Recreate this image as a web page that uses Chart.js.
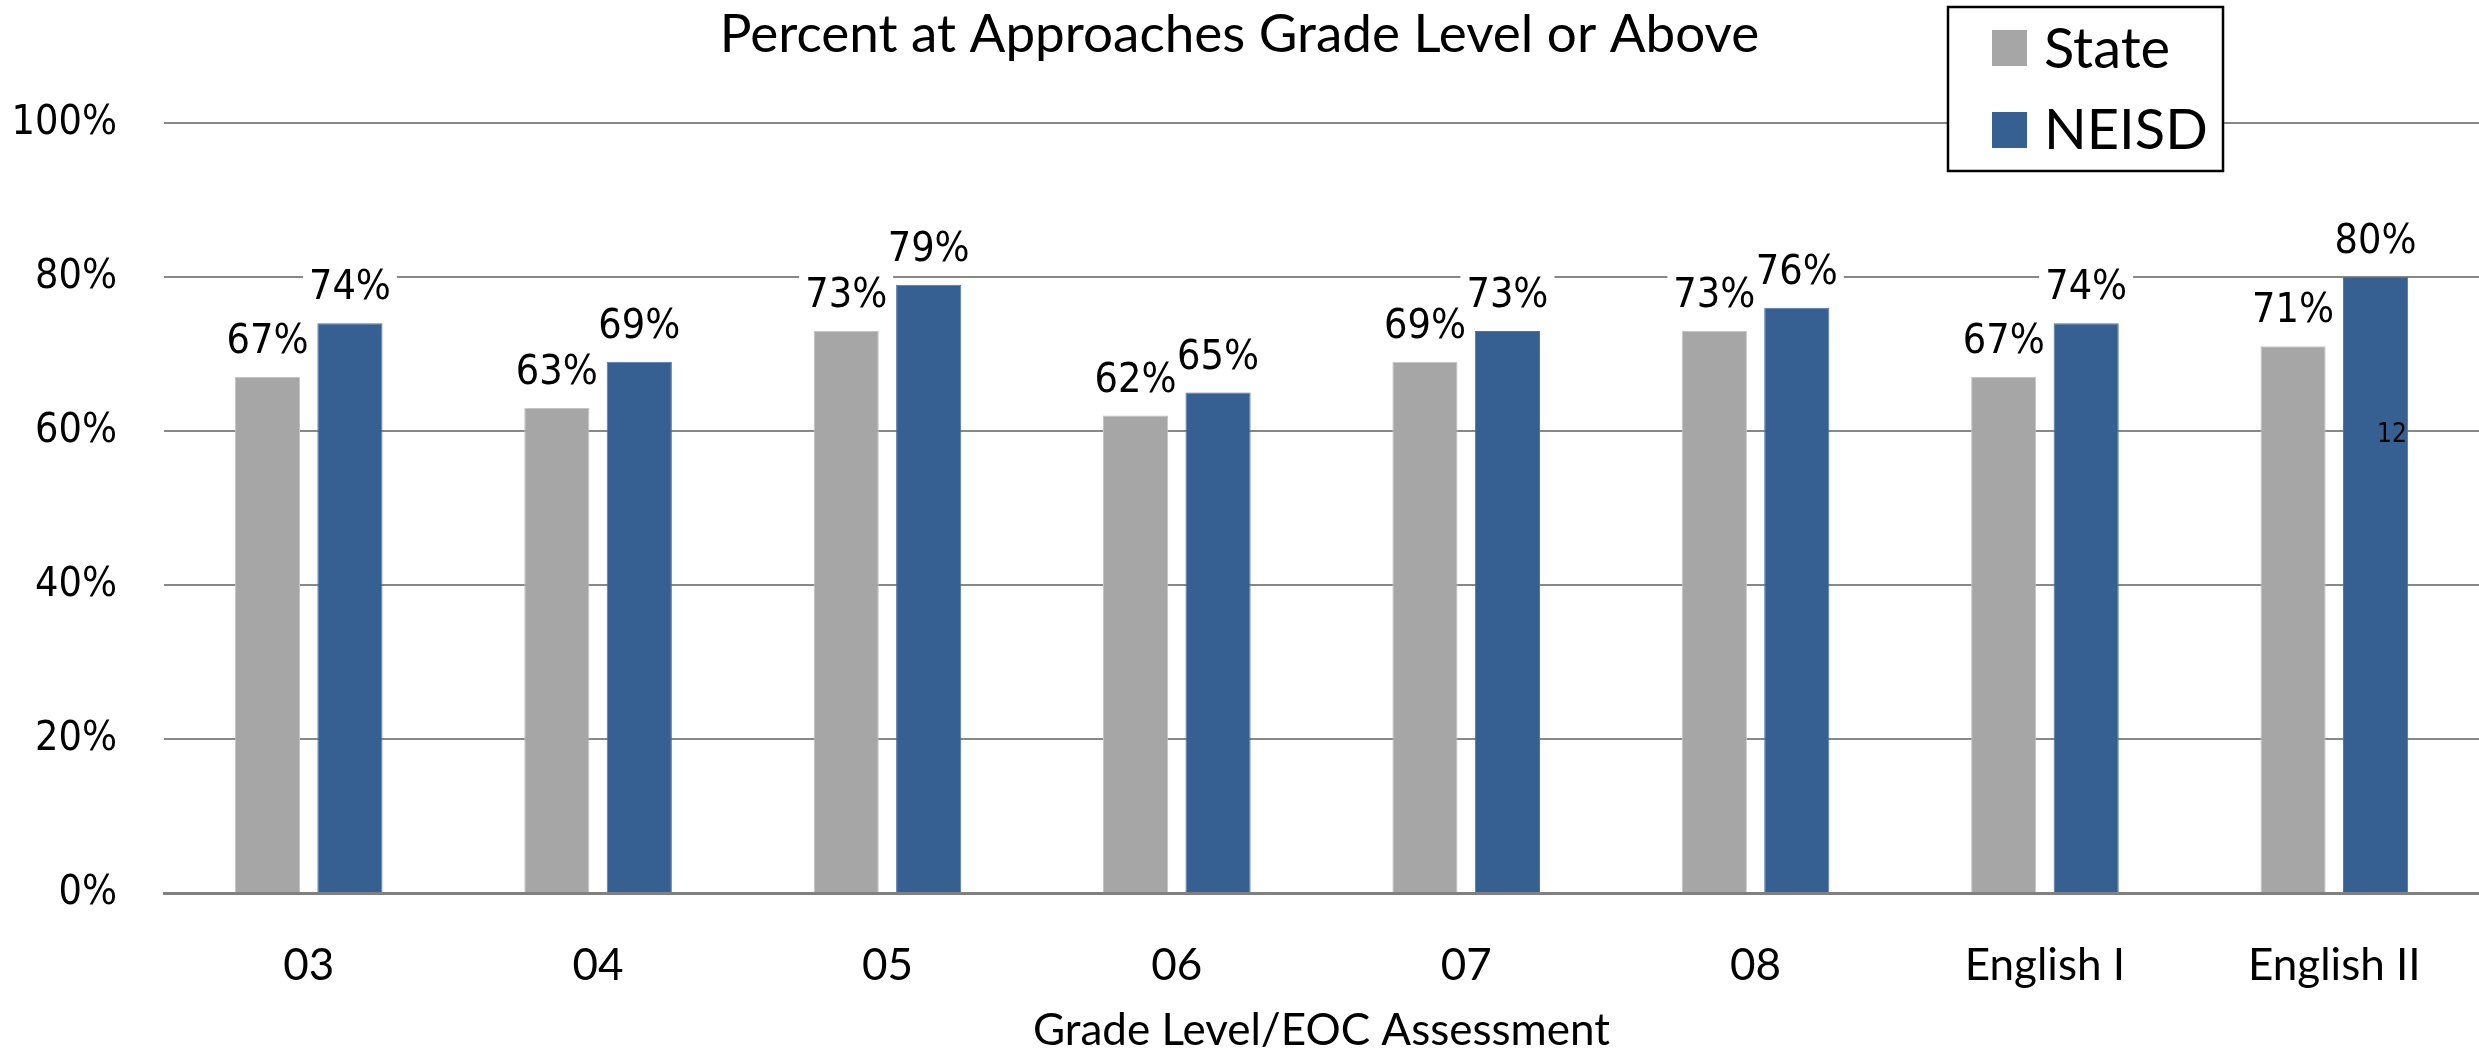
<!DOCTYPE html>
<html>
<head>
<meta charset="utf-8">
<script src="https://cdn.jsdelivr.net/npm/chart.js@4"></script>
<style>
  html, body { margin: 0; padding: 0; background: #fff; }
  #wrap { width: 2479px; height: 1053px; position: relative; }
</style>
</head>
<body>
<div id="wrap"><canvas id="scoreChart"></canvas></div>
<script>
// Data
const categories = ['03', '04', '05', '06', '07', '08', 'English I', 'English II'];
const stateValues = [67, 63, 73, 62, 69, 73, 67, 71];
const neisdValues = [74, 69, 79, 65, 73, 76, 74, 80];
const yTickValues = [0, 20, 40, 60, 80, 100];

const labelFont = '"DejaVu Sans Condensed", "DejaVu Sans"';
const textFont = 'Lato';

// value labels above each bar, on a white box that cuts the gridlines
const valueLabels = {
  id: 'valueLabels',
  afterDatasetsDraw(chart) {
    const ctx = chart.ctx;
    ctx.save();
    ctx.font = '41px ' + labelFont;
    ctx.textAlign = 'center';
    ctx.textBaseline = 'alphabetic';
    const items = [];
    chart.data.datasets.forEach((ds, i) => {
      chart.getDatasetMeta(i).data.forEach((bar, j) => {
        items.push({ x: bar.x, y: bar.y - 24, text: ds.data[j] + '%' });
      });
    });
    ctx.fillStyle = '#fff';
    items.forEach(it => {
      const w = ctx.measureText(it.text).width;
      ctx.fillRect(it.x - w / 2 - 6, it.y - 36, w + 12, 44);
    });
    ctx.fillStyle = '#000';
    items.forEach(it => ctx.fillText(it.text, it.x, it.y));
    ctx.restore();
  }
};

// boxed legend sitting over the top right of the plot
const boxLegend = {
  id: 'boxLegend',
  afterDraw(chart) {
    const ctx = chart.ctx;
    ctx.save();
    ctx.fillStyle = '#fff';
    ctx.fillRect(1948, 7, 275, 164);
    ctx.strokeStyle = '#000';
    ctx.lineWidth = 2.5;
    ctx.strokeRect(1948, 7, 275, 164);
    ctx.font = '56px ' + textFont;
    ctx.textBaseline = 'middle';
    chart.data.datasets.forEach((ds, i) => {
      ctx.fillStyle = ds.backgroundColor;
      ctx.fillRect(1992, 30 + i * 82, 35, 36);
      ctx.fillStyle = '#000';
      ctx.fillText(ds.label, 2044, 50 + i * 81);
    });
    // slide number left in the picture
    ctx.font = '26px ' + labelFont;
    ctx.textAlign = 'center';
    ctx.fillText('12', 2392, 435);
    ctx.restore();
  }
};

const ctx = document.getElementById('scoreChart').getContext('2d');
const scoreChart = new Chart(ctx, {
  type: 'bar',
  data: {
    labels: categories,
    datasets: [
      {
        label: 'State',
        data: stateValues,
        backgroundColor: '#A6A6A6',
        borderColor: '#C4C4C4',
        borderWidth: 1
      },
      {
        label: 'NEISD',
        data: neisdValues,
        backgroundColor: '#376092',
        borderColor: '#4D74A6',
        borderWidth: 1
      }
    ]
  },
  options: {
    responsive: true,
    maintainAspectRatio: false,
    animation: false,
    devicePixelRatio: 1,
    layout: { padding: 0 },
    datasets: {
      bar: { categoryPercentage: 0.57, barPercentage: 0.79 }
    },
    plugins: {
      legend: { display: false },
      tooltip: { enabled: false },
      title: {
        display: true,
        text: 'Percent at Approaches Grade Level or Above',
        color: '#000',
        font: { family: textFont, size: 53, weight: 'normal', lineHeight: 1.2 },
        padding: { top: 3, bottom: 56.4 }
      }
    },
    scales: {
      x: {
        grid: { display: false },
        border: { display: true, color: '#808080', width: 3 },
        ticks: {
          color: '#000',
          padding: 38,
          font: { family: textFont, size: 44 },
          maxRotation: 0
        },
        title: {
          display: true,
          text: 'Grade Level/EOC Assessment',
          color: '#000',
          font: { family: textFont, size: 44, lineHeight: 1 },
          padding: { top: 0, bottom: 0 }
        },
        afterFit(scale) { scale.height = 160; }
      },
      y: {
        min: 0,
        max: 100,
        grid: { color: '#888888', lineWidth: 2, drawTicks: false },
        border: { display: false },
        afterBuildTicks(scale) {
          scale.ticks = yTickValues.map(v => ({ value: v }));
        },
        ticks: {
          color: '#000',
          padding: 47,
          font: { family: labelFont, size: 41 },
          callback: v => v + '%'
        },
        afterFit(scale) { scale.width = 164; }
      }
    }
  },
  plugins: [valueLabels, boxLegend]
});
</script>
</body>
</html>
